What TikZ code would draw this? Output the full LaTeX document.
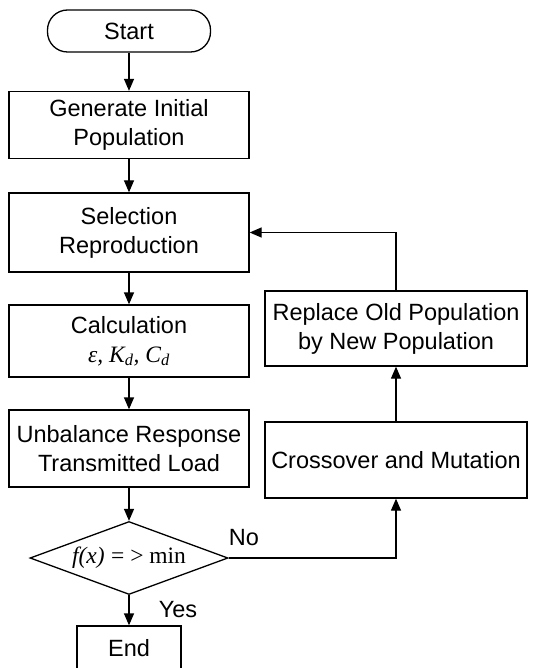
\documentclass[tikz,border=0pt]{standalone}
\usepackage{fontspec}
\setmainfont{Liberation Sans}
\newfontfamily\tms{Liberation Serif}
\usetikzlibrary{shapes.geometric,arrows.meta,positioning}

\begin{document}
\begin{tikzpicture}[x=1pt,y=-1pt,
  txt/.style={font=\fontsize{23.5}{29}\selectfont},
  box/.style={draw,line width=1.3pt,minimum width=240pt,align=center,inner sep=0pt,txt},
  sidebox/.style={box,minimum width=262pt},
  terminal/.style={draw,line width=1.3pt,rounded corners=20pt,minimum width=163pt,minimum height=42pt,txt},
  decision/.style={draw,diamond,aspect=2.7,line width=1.3pt,minimum width=198pt,minimum height=73pt,inner sep=0pt,txt},
  flow/.style={line width=1.3pt,-{Triangle[length=12pt,width=10pt]}}]
\useasboundingbox (0,0) rectangle (532,668);

\coordinate (c0) at (129,31);
\coordinate (c1) at (129,125);
\coordinate (c2) at (129,232.5);
\coordinate (c3) at (129,341);
\coordinate (c4) at (129,448.5);
\coordinate (c5) at (129,558);
\coordinate (c6) at (129,648);
\coordinate (c7) at (396,460);
\coordinate (c8) at (396,328.5);

\node (start) at (c0) [terminal] {Start};
\node (gen) at (c1) [box,minimum height=67pt] {Generate Initial\\Population};
\node (sel) at (c2) [box,minimum height=79pt] {Selection\\Reproduction};
\node (calc) at (c3) [box,minimum height=72pt] {Calculation\\{\tms\itshape ε, K\textsubscript{d}, C\textsubscript{d}}};
\node (unb) at (c4) [box,minimum height=77pt] {Unbalance Response\\Transmitted Load};
\node (dec) at (c5) [decision] {{\tms\itshape f(x)} {\tms = > min}};
\node (stop) at (c6) [box,minimum width=104pt,minimum height=44pt] {End};
\node (cross) at (c7) [sidebox,minimum height=76pt] {Crossover and Mutation};
\node (rep) at (c8) [sidebox,minimum height=75pt] {Replace Old Population\\by New Population};

\node (no) at (244,538) [txt] {No};
\node (yes) at (178,610) [txt] {Yes};

\draw[flow] (start) -- (gen);
\draw[flow] (gen) -- (sel);
\draw[flow] (sel) -- (calc);
\draw[flow] (calc) -- (unb);
\draw[flow] (unb) -- (dec);
\draw[flow] (dec) -- (stop);
\draw[flow] (dec.east) -| (cross.south);
\draw[flow] (cross) -- (rep);
\draw[flow] (rep.north) |- (sel.east);
\end{tikzpicture}
\end{document}
